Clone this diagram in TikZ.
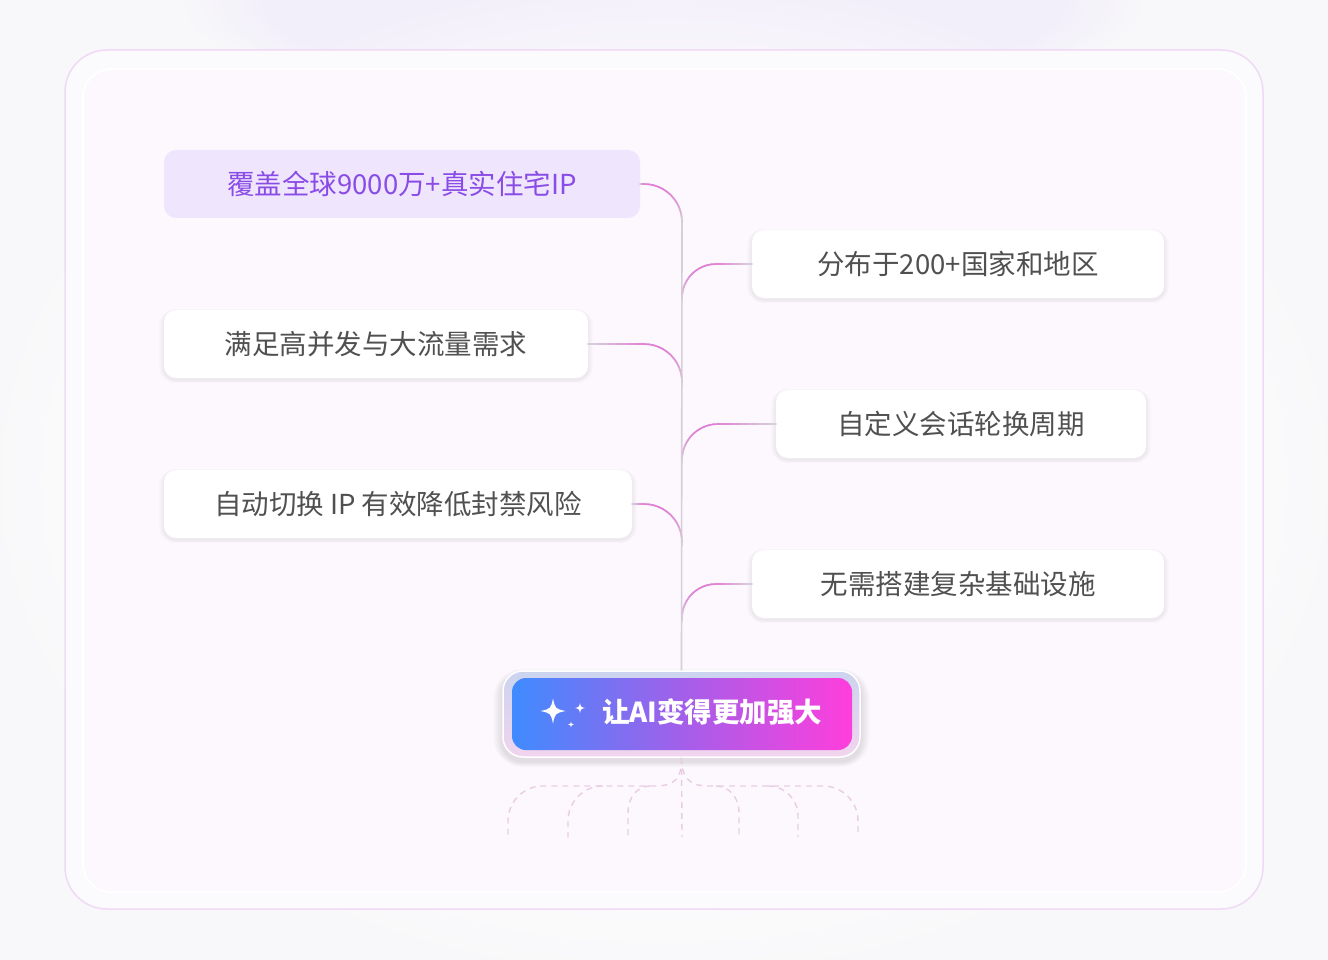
\documentclass[tikz,border=0pt]{standalone}
\usepackage{fontspec}
\newfontfamily\cjk{Noto Sans CJK SC}
\usetikzlibrary{calc,fadings}
\definecolor{bgc}{HTML}{F8F8FA}
\definecolor{glow}{HTML}{EEE6FB}
\definecolor{framefill}{HTML}{FBFAFD}
\definecolor{framedraw}{HTML}{F0DAF5}
\definecolor{panelfill}{HTML}{FCF8FE}
\definecolor{hlfill}{HTML}{EFE5FD}
\definecolor{hltext}{HTML}{8A4CE6}
\definecolor{txtgray}{HTML}{505050}
\definecolor{brpink}{HTML}{E27BD8}
\definecolor{brgray}{HTML}{D8D0DA}
\definecolor{trunkc}{HTML}{D6CFD7}
\definecolor{rootc}{HTML}{E9CDE4}
\definecolor{btnblue}{HTML}{3F8BFF}
\definecolor{btnmid}{HTML}{A35FE9}
\definecolor{btnpink}{HTML}{FF3EDC}
\definecolor{ringtop}{HTML}{CBD4EF}
\definecolor{ringbot}{HTML}{F2D4EE}
\pgfdeclarelayer{bglayer}
\pgfdeclarelayer{shadowlayer}
\pgfsetlayers{bglayer,shadowlayer,main}
\tikzset{
  cardbase/.style={rounded corners=12pt, minimum height=68pt, inner sep=0pt,
    font=\cjk\fontsize{27.5}{32}\selectfont},
  card/.style={cardbase, fill=white, text=txtgray},
  hlcard/.style={cardbase, fill=hlfill, text=hltext},
  branch/.style={draw=brgray, line width=1.6pt, rounded corners=#1},
  trunkline/.style={draw=trunkc, line width=1.6pt},
  seg/.style={line width=1.6pt, line cap=round},
  root/.style={draw=rootc, line width=1.4pt, dash pattern=on 6pt off 5pt},
}
% soft shadow behind a node: #1 node, #2 corner radius, #3 opacity per layer, #4 layers, #5 y offset
\newcommand\softshadow[5]{%
  \begin{pgfonlayer}{shadowlayer}
  \foreach \k in {1,...,#4}{%
    \pgfmathsetmacro\rr{#2+\k}%
    \fill[black, opacity=#3, rounded corners=\rr pt]
      ($(#1.south west)+(-\k,{\k*0.6+#5})$) rectangle ($(#1.north east)+(\k,{-\k*0.6+#5})$);
  }%
  \end{pgfonlayer}}
% gradient overlay of a branch: #1 start x, #2 y, #3 trunk x, #4 radius, #5 direction
\newcommand\gbranch[5]{%
  \foreach \j in {0,...,7}{%
    \pgfmathsetmacro\xa{#1+(#3-(#5)*#4-#1)*\j/8}%
    \pgfmathsetmacro\xb{#1+(#3-(#5)*#4-#1)*(\j+1)/8}%
    \pgfmathsetmacro\pp{100*sin(180*(0.45*(\j+0.5)/8)^1.3)}%
    \draw[seg, color=brpink!\pp!brgray] (\xa,#2) -- (\xb,#2);
  }%
  \foreach \k in {0,...,11}{%
    \pgfmathsetmacro\ta{90*\k/12}%
    \pgfmathsetmacro\tb{90*(\k+1)/12}%
    \pgfmathsetmacro\pp{100*sin(180*(0.45+0.55*(\k+0.5)/12)^1.3)}%
    \draw[seg, color=brpink!\pp!brgray]
      ({#3-(#5)*#4+(#5)*#4*sin(\ta)},{#2+#4-#4*cos(\ta)}) --
      ({#3-(#5)*#4+(#5)*#4*sin(\tb)},{#2+#4-#4*cos(\tb)});
  }%
}
\newcommand\sparkle[3]{%
  \fill[white] (#1,{#2-#3}) .. controls ({#1+0.18*#3},{#2-0.18*#3}) .. ({#1+#3},#2)
    .. controls ({#1+0.18*#3},{#2+0.18*#3}) .. (#1,{#2+#3})
    .. controls ({#1-0.18*#3},{#2+0.18*#3}) .. ({#1-#3},#2)
    .. controls ({#1-0.18*#3},{#2-0.18*#3}) .. cycle;}
\begin{document}
\begin{tikzpicture}[x=1pt,y=-1pt]
\useasboundingbox (0,0) rectangle (1328,960);
\begin{pgfonlayer}{bglayer}
\fill[bgc] (0,0) rectangle (1328,960);
\fill[glow, opacity=0.55, path fading=circle with fuzzy edge 20 percent] (664,0) ellipse (480pt and 120pt);
\fill[white, opacity=0.5, path fading=circle with fuzzy edge 20 percent] (664,480) ellipse (700pt and 520pt);
\draw[fill=framefill, draw=framedraw, line width=1.5pt, rounded corners=42pt] (65,50) rectangle (1263,909);
\draw[fill=panelfill, draw=white, line width=2pt, rounded corners=28pt] (83,69) rectangle (1246,892);
\end{pgfonlayer}

% cards
\node[hlcard, minimum width=476pt] (b1) at (402,184) {覆盖全球9000万+真实住宅IP};
\node[card, minimum width=412pt] (b2) at (958,264) {分布于200+国家和地区};
\node[card, minimum width=424pt] (b3) at (376,344) {满足高并发与大流量需求};
\node[card, minimum width=370pt] (b4) at (961,424) {自定义会话轮换周期};
\node[card, minimum width=468pt] (b5) at (398,504) {自动切换 IP 有效降低封禁风险};
\node[card, minimum width=412pt] (b6) at (958,584) {无需搭建复杂基础设施};
\foreach \b in {b2,b3,b4,b5,b6}{\softshadow{\b}{12}{0.012}{5}{2}}

% button
\node[top color=ringtop, bottom color=ringbot, draw=white, line width=1.5pt, rounded corners=20pt,
  minimum width=357pt, minimum height=86pt, inner sep=0pt] (ring) at (681.5,714) {};
\softshadow{ring}{20}{0.01}{9}{4}
\node[left color=btnblue, right color=btnpink, middle color=btnmid, rounded corners=14pt,
  minimum width=340pt, minimum height=72pt, inner sep=0pt] (btn) at (682,714) {};
\sparkle{553}{711}{12.5}
\sparkle{580}{708}{5}
\sparkle{571}{724.5}{2.8}
\node[anchor=west, inner sep=0pt, text=white, font=\cjk\bfseries\fontsize{27.5}{32}\selectfont] (btntext) at (602,712) {让AI变得更加强大};

% trunk
\coordinate (ttop) at (682,220);
\draw[trunkline] (ttop) -- (ring.north);

% branches
\coordinate (t1) at (682,226);
\coordinate (t2) at (682,302);
\coordinate (t3) at (682,386);
\coordinate (t4) at (682,464);
\coordinate (t5) at (682,546);
\coordinate (t6) at (682,622);
\draw[branch=38pt] (b1.east) -| (t1);
\draw[branch=34pt] (b2.west) -| (t2);
\draw[branch=38pt] (b3.east) -| (t3);
\draw[branch=36pt] (b4.west) -| (t4);
\draw[branch=38pt] (b5.east) -| (t5);
\draw[branch=34pt] (b6.west) -| (t6);
\gbranch{640}{184}{682}{38}{1}
\gbranch{752}{264}{682}{34}{-1}
\gbranch{588}{344}{682}{38}{1}
\gbranch{776}{424}{682}{36}{-1}
\gbranch{632}{504}{682}{38}{1}
\gbranch{752}{584}{682}{34}{-1}

% roots
\coordinate (rc) at (682,837);
\coordinate (rl1) at (508,837);
\coordinate (rl2) at (568,837);
\coordinate (rl3) at (628,837);
\coordinate (rr1) at (739,837);
\coordinate (rr2) at (798,837);
\coordinate (rr3) at (858,837);
\draw[root] (ring.south) -- (rc);
\draw[root] (ring.south) .. controls (682,778) and (675,786) .. (655,786) -- (543,786)
  to[out=180,in=90] (508,821) -- (rl1);
\draw[root] (603,786) to[out=180,in=90] (568,821) -- (rl2);
\draw[root] (650,786) to[out=180,in=90] (628,812) -- (rl3);
\draw[root] (ring.south) .. controls (682,778) and (689,786) .. (709,786) -- (823,786)
  to[out=0,in=90] (858,821) -- (rr3);
\draw[root] (768,786) to[out=0,in=90] (798,816) -- (rr2);
\draw[root] (716,786) to[out=0,in=90] (739,812) -- (rr1);
\end{tikzpicture}
\end{document}
